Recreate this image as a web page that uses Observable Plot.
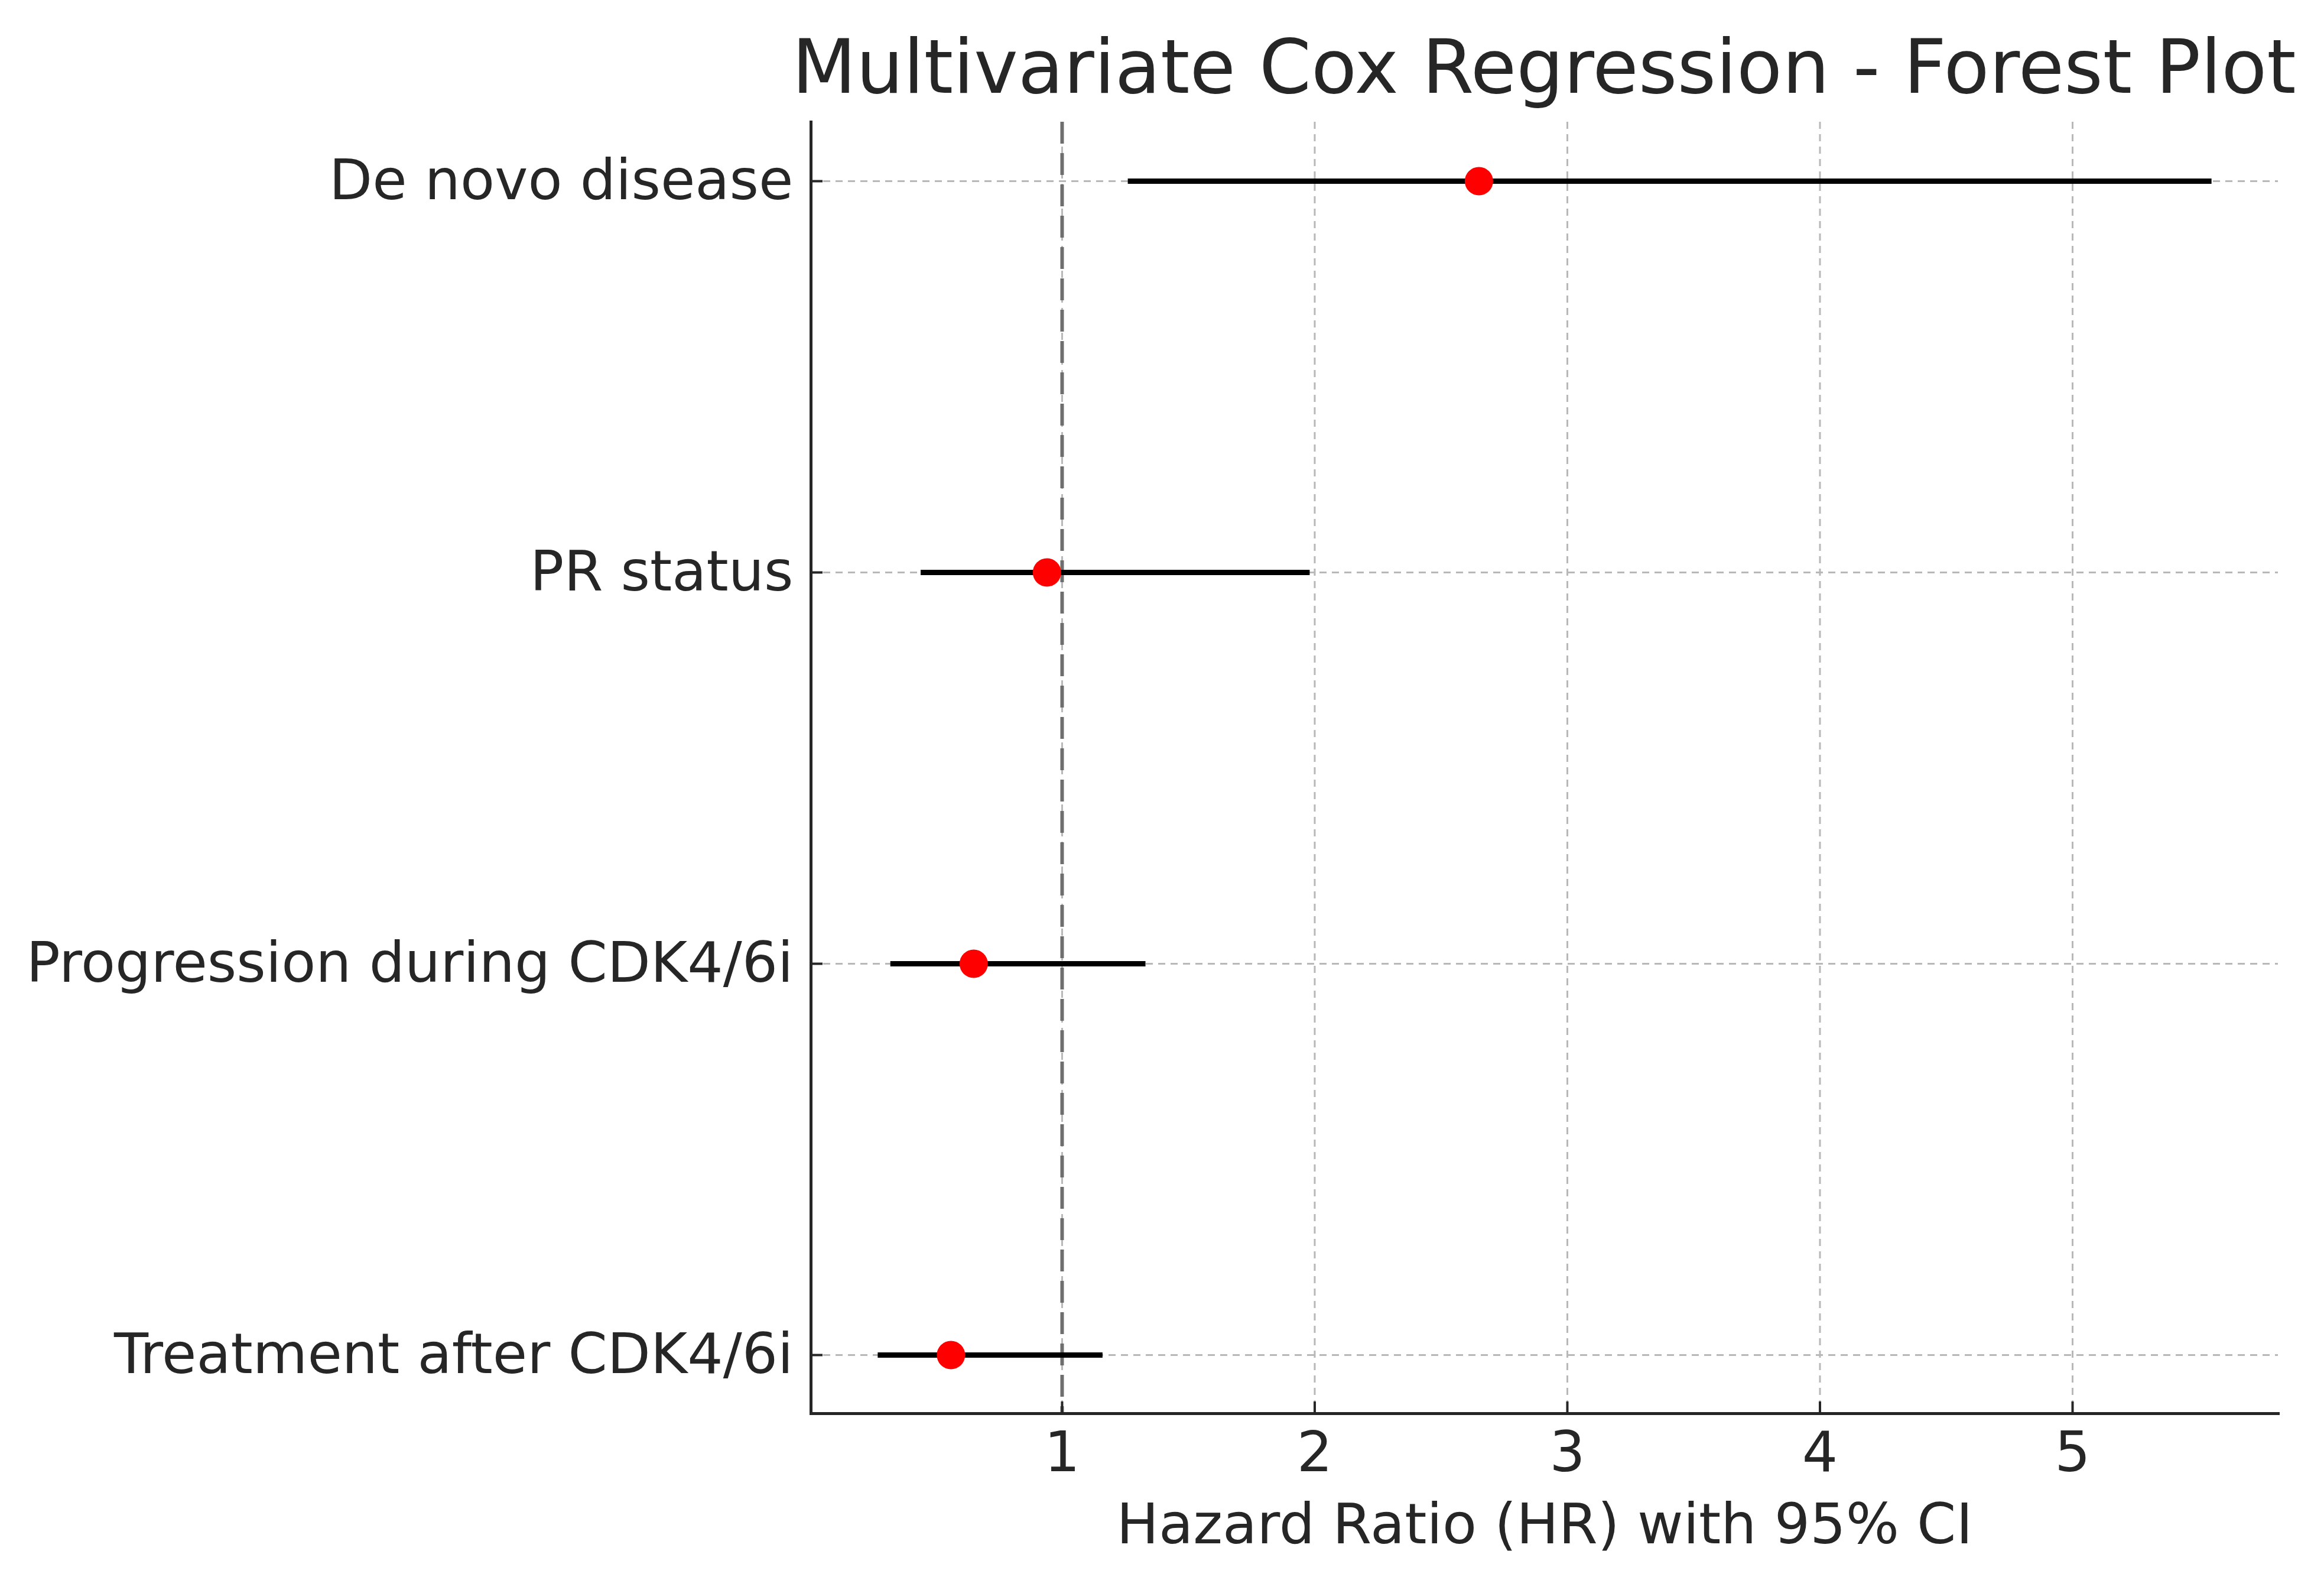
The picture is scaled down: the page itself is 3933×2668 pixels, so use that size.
<!DOCTYPE html>
<html>
<head>
<meta charset="utf-8">
<script src="https://cdn.jsdelivr.net/npm/d3@7"></script>
<script src="https://cdn.jsdelivr.net/npm/@observablehq/plot@0.6"></script>
<style>
  html, body { margin: 0; padding: 0; background: #ffffff; }
  #wrap { width: 3933px; height: 2668px; position: relative; overflow: hidden; }
  #titlebar { height: 190px; position: relative; }
  #title {
    position: absolute; top: 51px; left: 2613px; transform: translateX(-50%);
    font-family: "DejaVu Sans", sans-serif; font-size: 126px; line-height: 1;
    color: #262626; white-space: nowrap;
  }
</style>
</head>
<body>
<div id="wrap">
  <div id="titlebar"><div id="title">Multivariate Cox Regression - Forest Plot</div></div>
  <div id="chart"></div>
</div>
<script>
// Data
const categories = ["De novo disease", "PR status", "Progression during CDK4/6i", "Treatment after CDK4/6i"];
const hazardRatio = [2.65, 0.94, 0.65, 0.56];
const ciLower = [1.26, 0.44, 0.32, 0.27];
const ciUpper = [5.55, 1.98, 1.33, 1.16];
const xTicks = [1, 2, 3, 4, 5];
const referenceLine = [1];
const xLabel = "Hazard Ratio (HR) with 95% CI";

const rows = categories.map((c, i) => ({name: c, hr: hazardRatio[i], lo: ciLower[i], hi: ciUpper[i]}));

// matplotlib-style 5% autoscale margins
const xmin = d3.min(ciLower), xmax = d3.max(ciUpper);
const pad = (xmax - xmin) * 0.05;

const ink = "#262626";
const chart = Plot.plot({
  width: 3933,
  height: 2478,
  marginLeft: 1372,
  marginRight: 78,
  marginTop: 16,
  marginBottom: 277,
  style: {fontFamily: "DejaVu Sans, sans-serif", fontSize: "95px", color: ink, background: "#ffffff", overflow: "visible"},
  x: {domain: [xmin - pad, xmax + pad], label: null, axis: null},
  y: {type: "point", domain: categories, padding: 0.15, label: null, axis: null},
  marks: [
    Plot.gridX(xTicks, {stroke: "#b8b8b8", strokeOpacity: 1, strokeWidth: 3, strokeDasharray: "12,9"}),
    Plot.gridY(categories, {stroke: "#b8b8b8", strokeOpacity: 1, strokeWidth: 3, strokeDasharray: "12,9"}),
    Plot.ruleX(referenceLine, {stroke: "#6e6e6e", strokeWidth: 6, strokeDasharray: "37,16"}),
    Plot.link(rows, {x1: "lo", x2: "hi", y1: "name", y2: "name", stroke: "#000000", strokeWidth: 9}),
    Plot.dot(rows, {x: "hr", y: "name", r: 24, fill: "#ff0000", stroke: "none"}),
    Plot.frame({anchor: "left", stroke: ink, strokeWidth: 5}),
    Plot.frame({anchor: "bottom", stroke: ink, strokeWidth: 5}),
    Plot.axisY({tickSize: 0, tickPadding: 30, label: null}),
    Plot.axisY({tickSize: 20, dx: 20, tickFormat: () => "", label: null, strokeWidth: 4}),
    Plot.axisX({ticks: xTicks, tickSize: 0, tickPadding: 30, label: null, tickFormat: d => String(d)}),
    Plot.axisX({ticks: xTicks, tickSize: 20, dy: -20, tickFormat: () => "", label: null, strokeWidth: 4}),
    Plot.text([xLabel], {frameAnchor: "bottom", dy: 152, lineAnchor: "top", text: d => d, fontSize: 95, fill: ink})
  ]
});
document.getElementById("chart").appendChild(chart);
</script>
</body>
</html>
